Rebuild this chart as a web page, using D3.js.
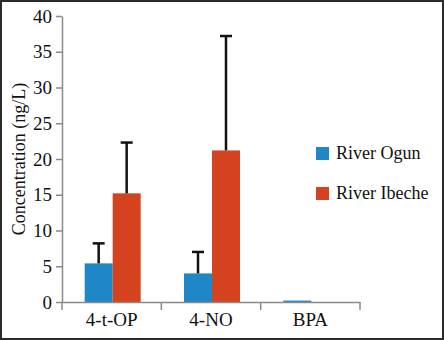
<!DOCTYPE html>
<html>
<head>
<meta charset="utf-8">
<script src="https://cdn.jsdelivr.net/npm/d3@7"></script>
<style>
  html, body { margin: 0; padding: 0; background: #fff; }
  svg text { fill: #111; }
</style>
</head>
<body>
<div id="chart"></div>
<script>
'use strict';

// values
var categories = ["4-t-OP", "4-NO", "BPA"];
var seriesNames = ["River Ogun", "River Ibeche"];
var ogun = [5.4, 4.0, 0.2];
var ibeche = [15.2, 21.2, 0];
var ogunErr = [2.8, 3.0, 0];
var ibecheErr = [7.1, 16.0, 0];
var yTicks = [0, 5, 10, 15, 20, 25, 30, 35, 40];

var colors = ["#1f86c7", "#d4421f"];
var serif = "Liberation Serif";

var width = 444, height = 340;
var margin = { left: 62, top: 16, right: 84, bottom: 38 };
var innerWidth = 360 - margin.left;
var innerHeight = 302 - margin.top;

var rows = categories.map(function(c, i) {
  return {
    cat: c,
    vals: [
      { s: 0, v: ogun[i], e: ogunErr[i] },
      { s: 1, v: ibeche[i], e: ibecheErr[i] }
    ]
  };
});

var root = d3.select("#chart").append("svg")
  .attr("width", width)
  .attr("height", height)
  .attr("font-family", serif);

// outer frame
root.append("rect")
  .attr("x", 1).attr("y", 1)
  .attr("width", width - 2).attr("height", height - 2)
  .attr("fill", "#fff")
  .attr("stroke", "#2b2b2b")
  .attr("stroke-width", 2);

var chart = root.append("g")
  .attr("transform", "translate(" + margin.left + "," + margin.top + ")");

var x = d3.scaleBand()
  .domain(categories)
  .range([0, innerWidth]);

var x1 = d3.scaleBand()
  .domain([0, 1])
  .range([0, 56])
  .padding(0);

var y = d3.scaleLinear()
  .domain([0, 40])
  .range([innerHeight, 0]);

// y axis
var yAxis = d3.axisLeft(y)
  .tickValues(yTicks)
  .tickSize(6)
  .tickPadding(4)
  .tickSizeOuter(0);

var gy = chart.append("g").attr("class", "yAxis").call(yAxis)
  .attr("font-family", serif).attr("font-size", 19);
gy.select(".domain").attr("stroke", "#8a8a8a").attr("stroke-width", 1.5);
gy.selectAll(".tick line").attr("stroke", "#8a8a8a").attr("stroke-width", 1.5);
gy.selectAll(".tick text").attr("fill", "#111");

// bars
var groups = chart.selectAll("g.group")
  .data(rows)
  .enter()
  .append("g")
  .attr("class", "group")
  .attr("transform", function(d) {
    return "translate(" + (x(d.cat) + (x.bandwidth() - 56) / 2 + 1) + ",0)";
  });

groups.selectAll("rect")
  .data(function(d) { return d.vals; })
  .enter()
  .append("rect")
  .attr("x", function(d) { return x1(d.s); })
  .attr("y", function(d) { return y(d.v); })
  .attr("width", x1.bandwidth())
  .attr("height", function(d) { return innerHeight - y(d.v); })
  .attr("fill", function(d) { return colors[d.s]; });

// error bars (upper only)
var errs = groups.selectAll("g.err")
  .data(function(d) { return d.vals.filter(function(v) { return v.e > 0; }); })
  .enter()
  .append("g")
  .attr("class", "err");

errs.append("line")
  .attr("x1", function(d) { return x1(d.s) + x1.bandwidth() / 2; })
  .attr("x2", function(d) { return x1(d.s) + x1.bandwidth() / 2; })
  .attr("y1", function(d) { return y(d.v); })
  .attr("y2", function(d) { return y(d.v + d.e); })
  .attr("stroke", "#111")
  .attr("stroke-width", 2.5);

errs.append("line")
  .attr("x1", function(d) { return x1(d.s) + x1.bandwidth() / 2 - 6; })
  .attr("x2", function(d) { return x1(d.s) + x1.bandwidth() / 2 + 6; })
  .attr("y1", function(d) { return y(d.v + d.e); })
  .attr("y2", function(d) { return y(d.v + d.e); })
  .attr("stroke", "#111")
  .attr("stroke-width", 2.5);

// x axis with ticks at band edges
var xAxis = d3.axisBottom(x).tickSize(0).tickPadding(11);
var gx = chart.append("g")
  .attr("class", "xAxis")
  .attr("transform", "translate(0," + innerHeight + ")")
  .call(xAxis)
  .attr("font-family", serif).attr("font-size", 19);
gx.select(".domain").attr("stroke", "#8a8a8a").attr("stroke-width", 1.5);
gx.selectAll(".tick text").attr("fill", "#111");

var edges = categories.map(function(c) { return x(c); }).concat([innerWidth]);
gx.selectAll("line.edge")
  .data(edges)
  .enter()
  .append("line")
  .attr("class", "edge")
  .attr("x1", function(d) { return d; })
  .attr("x2", function(d) { return d; })
  .attr("y1", 0)
  .attr("y2", 8)
  .attr("stroke", "#8a8a8a")
  .attr("stroke-width", 1.5);

// y title
root.append("text")
  .attr("transform", "translate(25," + (margin.top + innerHeight / 2) + ") rotate(-90)")
  .attr("text-anchor", "middle")
  .attr("font-size", 18)
  .text("Concentration (ng/L)");

// legend
var legend = root.selectAll("g.legend")
  .data(seriesNames)
  .enter()
  .append("g")
  .attr("class", "legend")
  .attr("transform", function(d, i) { return "translate(316," + (147 + i * 40) + ")"; });

legend.append("rect")
  .attr("width", 13)
  .attr("height", 13)
  .attr("fill", function(d, i) { return colors[i]; });

legend.append("text")
  .attr("x", 20)
  .attr("y", 12)
  .attr("font-size", 18)
  .text(function(d) { return d; });
</script>
</body>
</html>
